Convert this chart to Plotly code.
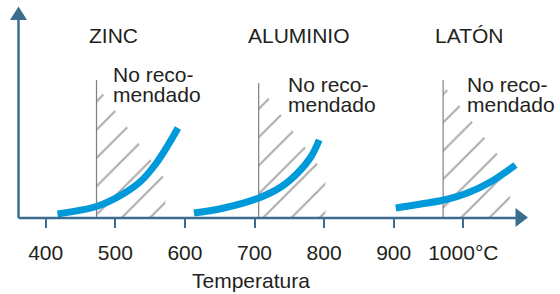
import plotly.graph_objects as go

# ---- data ----
tick_vals = [400, 500, 600, 700, 800, 900, 1000]
tick_text = ["400", "500", "600", "700", "800", "900", "1000°C"]

materials = ["ZINC", "ALUMINIO", "LATÓN"]

zinc_T = [417, 475, 511, 537, 558, 575, 590]
zinc_y = [4, 12, 24, 37, 54, 72, 90]

alu_T = [613, 656, 706, 738, 762, 781, 793]
alu_y = [5, 10, 20, 31, 45, 61, 78]

laton_T = [903, 939, 972, 1006, 1039, 1075]
laton_y = [10, 14, 18, 25, 36, 53]

limit_T = [473, 706, 971]      # start of "No recomendado" zone
zone_end_T = [572, 802, 1067]  # right edge of hatched zone
zone_top = [133, 133, 133]
zone_right_top = [38, 43, 48]
line_top = [138, 135, 138]

# ---- layout geometry ----
W, H = 560, 294
PLOT_H = 218
K = 0.696               # px per degree
T0 = 400 - 45.7 / K     # temperature at left edge
T1 = T0 + W / K

AX = "#3B6D8F"
BLUE = "#0099D9"
TXT = "#231F20"
FONT = "Liberation Sans, Arial, sans-serif"

fig = go.Figure()

# hatched zones
for t0, t1, top, rtop in zip(limit_T, zone_end_T, zone_top, zone_right_top):
    fig.add_trace(go.Scatter(
        x=[t0, t0, t1, t1, t0], y=[0, top, rtop, 0, 0],
        mode="lines", line=dict(width=0), fill="toself",
        fillcolor="rgba(0,0,0,0)",
        fillpattern=dict(shape="/", fgcolor="#555555", bgcolor="rgba(0,0,0,0)",
                         size=20, solidity=0.1),
        hoverinfo="skip", showlegend=False))

# limit vertical lines
for t, top in zip(limit_T, line_top):
    fig.add_trace(go.Scatter(x=[t, t], y=[0, top], mode="lines",
                             line=dict(color="#808080", width=1.2),
                             hoverinfo="skip", showlegend=False))

# curves
for xs, ys in [(zinc_T, zinc_y), (alu_T, alu_y), (laton_T, laton_y)]:
    fig.add_trace(go.Scatter(x=xs, y=ys, mode="lines",
                             line=dict(color=BLUE, width=7, shape="spline",
                                       smoothing=1),
                             showlegend=False))

def px(x):
    return x / W

def py(y):
    return (PLOT_H - y) / PLOT_H

ann = []
# material titles
for name, cx in zip(materials, [113, 298.5, 468.5]):
    ann.append(dict(text=name, x=px(cx), y=py(35.5), xref="paper", yref="paper",
                    xanchor="center", yanchor="middle", showarrow=False,
                    font=dict(size=21, color=TXT, family=FONT)))
# "No recomendado" labels
for lx, y1, y2 in [(113, 74.5, 94.5), (288, 84.5, 104.5), (467, 84.5, 104.5)]:
    ann.append(dict(text="No reco-", x=px(lx - 2), y=py(y1), xref="paper", yref="paper",
                    xanchor="left", yanchor="middle", showarrow=False,
                    font=dict(size=21, color=TXT, family=FONT)))
    ann.append(dict(text="mendado", x=px(lx - 2), y=py(y2), xref="paper", yref="paper",
                    xanchor="left", yanchor="middle", showarrow=False,
                    font=dict(size=21, color=TXT, family=FONT)))
# axis title
ann.append(dict(text="Temperatura", x=px(251), y=py(280), xref="paper", yref="paper",
                xanchor="center", yanchor="middle", showarrow=False,
                font=dict(size=21, color=TXT, family=FONT)))

shapes = [
    dict(type="line", xref="paper", yref="paper", x0=px(18.5), x1=px(517),
         y0=0, y1=0, line=dict(color=AX, width=2.5)),
    dict(type="line", xref="paper", yref="paper", x0=px(18.5), x1=px(18.5),
         y0=0, y1=py(19), line=dict(color=AX, width=2.5)),
    dict(type="path", xref="paper", yref="paper",
         path=f"M {px(10)},{py(20)} L {px(27)},{py(20)} L {px(18.5)},{py(6.5)} Z",
         fillcolor=AX, line=dict(width=0)),
    dict(type="path", xref="paper", yref="paper",
         path=f"M {px(515.5)},{py(208)} L {px(515.5)},{py(227)} L {px(528)},{py(217.5)} Z",
         fillcolor=AX, line=dict(width=0)),
]

fig.update_layout(
    width=W, height=H,
    margin=dict(l=0, r=0, t=0, b=H - PLOT_H),
    paper_bgcolor="white", plot_bgcolor="white",
    xaxis=dict(range=[T0, T1], showgrid=False, zeroline=False, showline=False,
               tickvals=tick_vals, ticktext=tick_text, ticks="outside",
               ticklen=9, tickwidth=1.5, tickcolor=AX, ticklabelstandoff=7,
               tickfont=dict(size=21, color=TXT, family=FONT)),
    yaxis=dict(range=[0, PLOT_H], visible=False),
    annotations=ann, shapes=shapes, showlegend=False,
)

fig.write_html("out.html", config={"displayModeBar": False},
               post_script="document.body.style.margin='0px';")
